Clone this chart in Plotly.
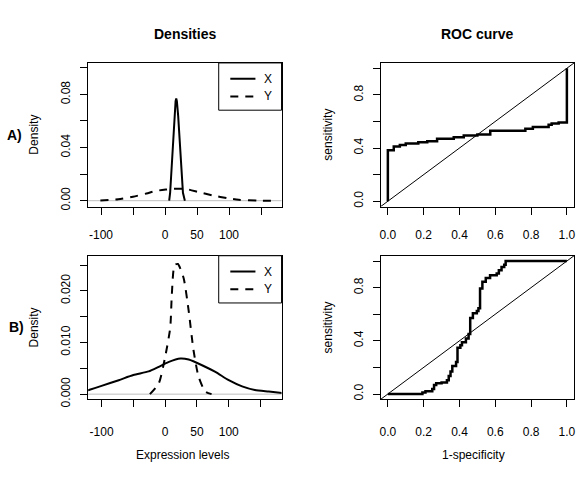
import plotly.graph_objects as go

# ---------------- data ----------------
# Panel A densities
dens_a_x_pos = [6.5, 8, 9.5, 12, 14.5, 16.5, 17.5, 18.5, 20.5, 23, 26, 28, 31]
dens_a_x_val = [0.000, 0.006, 0.018, 0.042, 0.064, 0.075, 0.077, 0.075, 0.064, 0.042, 0.018, 0.006, 0.000]
dens_a_y_pos = [-101, -73, -50, -29, -14, 1.5, 12, 32, 53, 74, 99, 115, 146, 171]
dens_a_y_val = [0.0002, 0.0010, 0.0030, 0.0054, 0.0074, 0.0084, 0.0089, 0.0089, 0.0064, 0.0040, 0.0017, 0.0007, 0.0001, 0.0000]

# Panel B densities
dens_b_x_pos = [-125, -120, -100, -73, -50, -26, -10, 5, 24, 37, 58, 79, 100, 121, 141, 163, 185]
dens_b_x_val = [0.0006, 0.0008, 0.0016, 0.0027, 0.0037, 0.0044, 0.0053, 0.0062, 0.0069, 0.0067,
                0.0056, 0.0043, 0.0027, 0.0015, 0.0008, 0.0005, 0.0002]
dens_b_y_pos = [-24, -10, 0, 8, 10.5, 14.8, 20, 29, 37, 44.6, 52.5, 63, 73]
dens_b_y_val = [0.0, 0.0021, 0.0072, 0.0129, 0.0193, 0.0250, 0.0252, 0.0225, 0.0161, 0.0085, 0.0034, 0.0005, 0.0]

# ROC curves (step points: at each fpr the sensitivity becomes the given level)
roc_a_fpr = [0, 0, 0.033, 0.067, 0.10, 0.17, 0.22, 0.275, 0.368, 0.424, 0.50, 0.572, 0.768, 0.81, 0.898, 0.915, 0.954, 1.0]
roc_a_sens = [0, 0.383, 0.412, 0.422, 0.435, 0.444, 0.452, 0.469, 0.481, 0.494, 0.501, 0.531, 0.546, 0.558, 0.575, 0.585, 0.593, 1.0]

roc_b_fpr = [0, 0.193, 0.21, 0.248, 0.258, 0.27, 0.30, 0.33, 0.34, 0.35, 0.36, 0.381, 0.389, 0.405, 0.414,
             0.436, 0.451, 0.46, 0.475, 0.497, 0.506, 0.515, 0.528, 0.547, 0.571, 0.608, 0.62, 0.635, 0.65, 0.658, 1.0]
roc_b_sens = [0, 0.012, 0.02, 0.037, 0.067, 0.08, 0.087, 0.104, 0.136, 0.169, 0.211, 0.24, 0.347, 0.367, 0.39,
              0.417, 0.452, 0.571, 0.608, 0.625, 0.645, 0.794, 0.844, 0.873, 0.893, 0.906, 0.93, 0.955, 0.973, 1.0, 1.0]

diag = [-0.04, 1.04]

dens_xticks = [-100, -50, 0, 50, 100, 150]
dens_xlabels = ["-100", "", "0", "50", "100", ""]
dens_a_yticks = [0.00, 0.02, 0.04, 0.06, 0.08, 0.10]
dens_a_ylabels = ["0.00", "", "0.04", "", "0.08", ""]
dens_b_yticks = [0.000, 0.005, 0.010, 0.015, 0.020, 0.025]
dens_b_ylabels = ["0.000", "", "0.010", "", "0.020", ""]
roc_ticks = [0.0, 0.2, 0.4, 0.6, 0.8, 1.0]
roc_xlabels = ["0.0", "0.2", "0.4", "0.6", "0.8", "1.0"]
roc_ylabels = ["0.0", "", "0.4", "", "0.8", ""]

# ---------------- figure ----------------
W, H = 586, 486
FONT = "Arial, Liberation Sans, Helvetica, sans-serif"
fig = go.Figure()

def line(x, y, xa, ya, dash="solid", width=2, shape="linear"):
    fig.add_trace(go.Scatter(x=x, y=y, mode="lines", xaxis=xa, yaxis=ya,
                             line=dict(color="black", width=width, dash=dash, shape=shape, smoothing=0.6),
                             hoverinfo="skip", showlegend=False))

# Panel A density
line(dens_a_y_pos, dens_a_y_val, "x", "y", dash="8px,7px", shape="spline")
line(dens_a_x_pos, dens_a_x_val, "x", "y")
# Panel A ROC
line(diag, diag, "x2", "y2", width=1)
line(roc_a_fpr, roc_a_sens, "x2", "y2", width=2.5, shape="hv")
# Panel B density
line(dens_b_x_pos, dens_b_x_val, "x3", "y3", shape="spline")
line(dens_b_y_pos, dens_b_y_val, "x3", "y3", dash="8px,7px", shape="spline")
# Panel B ROC
line(diag, diag, "x4", "y4", width=1)
line(roc_b_fpr, roc_b_sens, "x4", "y4", width=2.5, shape="hv")

def px2fx(p):
    return p / W

def px2fy(p):
    return 1 - p / H

dens_dom = [px2fx(87.5), px2fx(281.5)]
roc_dom = [px2fx(381), px2fx(575)]
rowA = [px2fy(210), px2fy(64)]
rowB = [px2fy(406), px2fy(260)]

axis_common = dict(showline=True, linecolor="black", linewidth=1, mirror=True,
                   ticks="outside", ticklen=7, tickcolor="black", tickwidth=1,
                   showgrid=False, zeroline=False, tickmode="array",
                   tickfont=dict(size=12, color="black", family=FONT))
xstandA = 10
xstandB = 14
ystand = 5

fig.update_layout(
    width=W, height=H, margin=dict(l=0, r=0, t=0, b=0),
    paper_bgcolor="white", plot_bgcolor="white", showlegend=False,
    font=dict(family=FONT, color="black"),
    xaxis=dict(domain=dens_dom, anchor="y", range=[-120, 182], tickvals=dens_xticks, ticktext=dens_xlabels,
               ticklabelstandoff=xstandA, **axis_common),
    yaxis=dict(domain=rowA, anchor="x", range=[-0.0044, 0.1037], tickvals=dens_a_yticks, ticktext=dens_a_ylabels,
               tickangle=-90, ticklabelstandoff=ystand, **axis_common),
    xaxis2=dict(domain=roc_dom, anchor="y2", range=[-0.04, 1.04], tickvals=roc_ticks, ticktext=roc_xlabels,
                ticklabelstandoff=xstandA, **axis_common),
    yaxis2=dict(domain=rowA, anchor="x2", range=[-0.04, 1.04], tickvals=roc_ticks, ticktext=roc_ylabels,
                tickangle=-90, ticklabelstandoff=ystand, **axis_common),
    xaxis3=dict(domain=dens_dom, anchor="y3", range=[-121, 183], tickvals=dens_xticks, ticktext=dens_xlabels,
                ticklabelstandoff=xstandB, **axis_common),
    yaxis3=dict(domain=rowB, anchor="x3", range=[-0.001, 0.0268], tickvals=dens_b_yticks, ticktext=dens_b_ylabels,
                tickangle=-90, ticklabelstandoff=ystand, **axis_common),
    xaxis4=dict(domain=roc_dom, anchor="y4", range=[-0.04, 1.04], tickvals=roc_ticks, ticktext=roc_xlabels,
                ticklabelstandoff=xstandB, **axis_common),
    yaxis4=dict(domain=rowB, anchor="x4", range=[-0.04, 1.04], tickvals=roc_ticks, ticktext=roc_ylabels,
                tickangle=-90, ticklabelstandoff=ystand, **axis_common),
)

shapes = []
annotations = []

# gray zero lines in density panels
for xa, ya in [("x", "y"), ("x3", "y3")]:
    shapes.append(dict(type="line", xref=f"{xa} domain", yref=ya, x0=0, x1=1, y0=0, y1=0,
                       line=dict(color="#BEBEBE", width=1), layer="below"))

# legends
for xa, ya in [("x", "y"), ("x3", "y3")]:
    xr, yr = f"{xa} domain", f"{ya} domain"
    shapes.append(dict(type="rect", xref=xr, yref=yr, x0=0.675, x1=1.0, y0=0.671, y1=1.0,
                       line=dict(color="black", width=1), fillcolor="white"))
    shapes.append(dict(type="line", xref=xr, yref=yr, x0=0.735, x1=0.865, y0=0.89, y1=0.89,
                       line=dict(color="black", width=2)))
    shapes.append(dict(type="line", xref=xr, yref=yr, x0=0.735, x1=0.865, y0=0.767, y1=0.767,
                       line=dict(color="black", width=2, dash="8px,7px")))
    for lab, yy in [("X", 0.89), ("Y", 0.767)]:
        annotations.append(dict(text=lab, xref=xr, yref=yr, x=0.93, y=yy, showarrow=False,
                                xanchor="center", yanchor="middle",
                                font=dict(size=12, family=FONT, color="black")))

def ann(text, x, y, size=12, angle=0, bold=False):
    annotations.append(dict(text=f"<b>{text}</b>" if bold else text, xref="paper", yref="paper",
                            x=px2fx(x), y=px2fy(y), showarrow=False, textangle=angle,
                            xanchor="center", yanchor="middle",
                            font=dict(size=size, family=FONT, color="black")))

ann("Densities", 184.5, 35, size=14, bold=True)
ann("ROC curve", 478, 35, size=14, bold=True)
ann("A)", 14, 137, size=14, bold=True)
ann("B)", 16, 332, size=14, bold=True)
ann("Density", 33, 137, angle=-90)
ann("Density", 33, 333, angle=-90)
ann("sensitivity", 328, 137, angle=-90)
ann("sensitivity", 328, 333, angle=-90)
ann("Expression levels", 182.5, 463)
ann("1-specificity", 474.5, 463)

fig.update_layout(shapes=shapes, annotations=annotations)
fig.write_html("out.html", config={"displayModeBar": False},
               post_script="document.body.style.margin='0';document.body.style.padding='0';")
